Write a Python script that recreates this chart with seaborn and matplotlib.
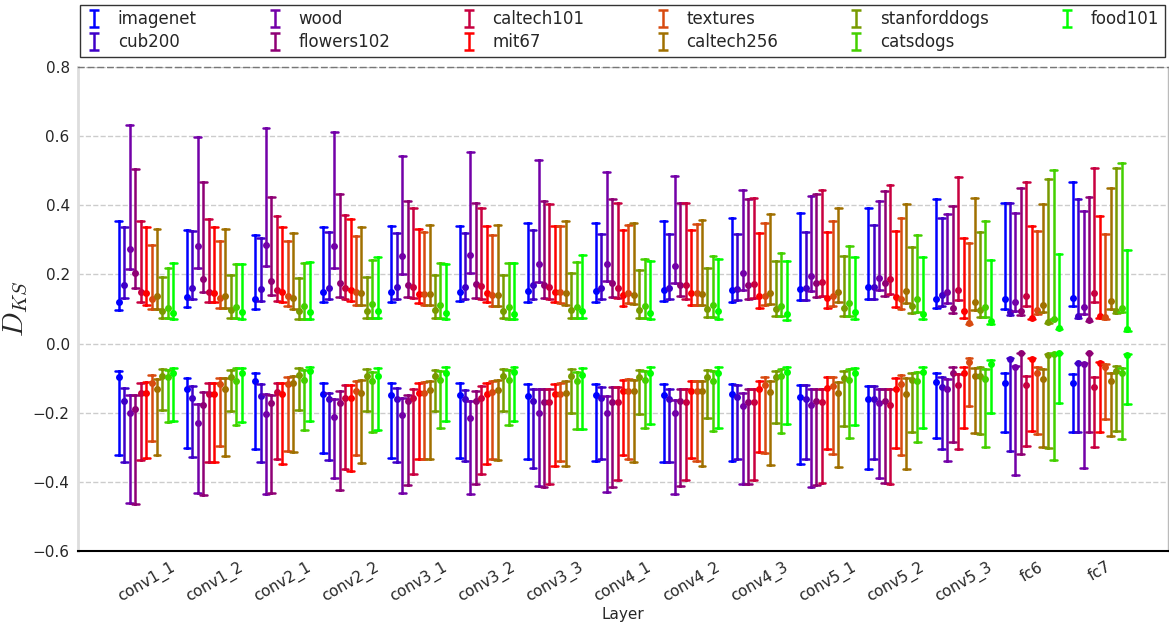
import numpy as np
import pandas as pd
import matplotlib
matplotlib.use("Agg")
import matplotlib.pyplot as plt
import seaborn as sns

layers = ["conv1_1", "conv1_2", "conv2_1", "conv2_2", "conv3_1", "conv3_2", "conv3_3",
          "conv4_1", "conv4_2", "conv4_3", "conv5_1", "conv5_2", "conv5_3", "fc6", "fc7"]
datasets = ["imagenet", "cub200", "wood", "flowers102", "caltech101", "mit67",
            "textures", "caltech256", "stanforddogs", "catsdogs", "food101"]
colors = ["#0000FF", "#3F00C8", "#7300A8", "#8F0075", "#C80040", "#FF0000",
          "#D84A10", "#A07000", "#789A00", "#44D000", "#00FF00"]

# positive side: upper whisker, marker, lower whisker (one row per dataset)
upper_hi = [
    [.355, .329, .315, .336, .340, .340, .350, .348, .355, .364, .379, .391, .419, .408, .468],
    [.338, .325, .304, .322, .321, .321, .328, .316, .318, .316, .323, .342, .364, .408, .419],
    [.632, .597, .624, .612, .543, .554, .531, .497, .485, .444, .427, .413, .374, .379, .383],
    [.505, .468, .424, .433, .413, .408, .413, .417, .408, .419, .434, .442, .398, .449, .424],
    [.354, .361, .368, .372, .393, .391, .404, .408, .408, .422, .444, .458, .482, .466, .509],
    [.337, .338, .338, .360, .331, .340, .340, .329, .328, .321, .323, .325, .305, .340, .369],
    [.286, .297, .297, .311, .323, .313, .340, .342, .345, .350, .355, .364, .290, .326, .316],
    [.331, .331, .319, .338, .342, .343, .355, .350, .358, .374, .391, .403, .421, .405, .451],
    [.194, .199, .191, .193, .199, .198, .203, .212, .218, .238, .254, .278, .323, .477, .509],
    [.218, .230, .234, .241, .234, .232, .237, .244, .254, .263, .283, .313, .355, .501, .521],
    [.233, .230, .237, .251, .230, .232, .256, .239, .244, .240, .249, .249, .241, .259, .270],
]
upper_med = [
    [.121, .136, .130, .149, .150, .150, .152, .153, .154, .154, .157, .165, .128, .128, .133],
    [.170, .162, .157, .162, .165, .165, .169, .161, .162, .159, .160, .165, .140, .090, .080],
    [.275, .282, .286, .283, .254, .256, .231, .231, .223, .203, .196, .191, .149, .121, .107],
    [.203, .188, .181, .176, .169, .172, .170, .175, .169, .169, .174, .176, .104, .094, .069],
    [.150, .150, .155, .162, .165, .167, .165, .162, .169, .172, .179, .186, .155, .138, .145],
    [.145, .146, .149, .155, .143, .146, .150, .141, .146, .138, .133, .136, .094, .075, .080],
    [.128, .131, .138, .148, .143, .141, .148, .145, .146, .138, .138, .130, .059, .096, .078],
    [.138, .138, .131, .145, .143, .140, .145, .141, .143, .145, .148, .152, .121, .111, .122],
    [.094, .096, .093, .094, .097, .094, .096, .097, .099, .099, .102, .109, .097, .061, .093],
    [.102, .107, .109, .114, .111, .107, .107, .109, .111, .109, .117, .130, .107, .072, .102],
    [.088, .090, .090, .094, .087, .085, .094, .087, .093, .085, .090, .085, .066, .044, .041],
]
upper_lo = [
    [.097, .107, .101, .119, .120, .123, .120, .120, .123, .121, .126, .130, .104, .101, .109],
    [.132, .128, .123, .128, .130, .130, .130, .128, .128, .125, .126, .130, .109, .083, .075],
    [.215, .220, .225, .219, .201, .203, .178, .181, .176, .155, .152, .155, .117, .095, .085],
    [.160, .149, .141, .136, .135, .131, .131, .136, .138, .130, .136, .138, .087, .082, .066],
    [.121, .119, .123, .128, .131, .128, .128, .131, .130, .133, .138, .143, .126, .109, .119],
    [.112, .119, .119, .124, .117, .119, .119, .109, .112, .104, .104, .107, .075, .070, .075],
    [.101, .104, .109, .112, .112, .109, .116, .117, .112, .111, .109, .101, .056, .085, .072],
    [.101, .104, .101, .112, .112, .109, .111, .114, .112, .114, .119, .117, .097, .090, .099],
    [.073, .075, .070, .073, .073, .073, .075, .073, .078, .080, .080, .087, .078, .059, .087],
    [.073, .075, .070, .073, .073, .070, .075, .073, .078, .080, .080, .092, .078, .070, .090],
    [.070, .070, .070, .073, .070, .070, .075, .070, .070, .068, .070, .070, .058, .041, .037],
]

# negative side: whisker nearest zero, marker, far whisker
lower_hi = [
    [-.079, -.101, -.086, -.115, -.115, -.115, -.118, -.118, -.118, -.118, -.120, -.122, -.086, -.086, -.089],
    [-.128, -.122, -.118, -.142, -.128, -.135, -.132, -.127, -.132, -.120, -.120, -.122, -.098, -.041, -.055],
    [-.150, -.176, -.147, -.161, -.158, -.166, -.130, -.151, -.163, -.142, -.130, -.130, -.103, -.065, -.055],
    [-.148, -.139, -.150, -.137, -.150, -.137, -.132, -.127, -.132, -.132, -.130, -.130, -.069, -.026, -.026],
    [-.114, -.114, -.115, -.120, -.130, -.122, -.132, -.127, -.132, -.132, -.130, -.130, -.089, -.094, -.096],
    [-.112, -.114, -.113, -.120, -.113, -.113, -.116, -.106, -.108, -.108, -.098, -.101, -.068, -.043, -.053],
    [-.092, -.099, -.096, -.108, -.111, -.108, -.113, -.103, -.108, -.098, -.098, -.092, -.042, -.068, -.058],
    [-.103, -.101, -.094, -.105, -.108, -.106, -.108, -.105, -.108, -.108, -.111, -.101, -.072, -.074, -.084],
    [-.074, -.075, -.070, -.073, -.077, -.073, -.074, -.077, -.075, -.078, -.079, -.084, -.069, -.031, -.065],
    [-.075, -.072, -.076, -.082, -.079, -.076, -.082, -.079, -.078, -.074, -.074, -.082, -.074, -.028, -.072],
    [-.070, -.070, -.068, -.071, -.069, -.068, -.070, -.069, -.068, -.068, -.070, -.068, -.048, -.026, -.030],
]
lower_med = [
    [-.098, -.130, -.108, -.147, -.148, -.148, -.151, -.150, -.150, -.147, -.154, -.159, -.111, -.113, -.115],
    [-.166, -.156, -.151, -.161, -.161, -.161, -.166, -.156, -.159, -.154, -.159, -.159, -.127, -.044, -.057],
    [-.200, -.229, -.204, -.211, -.207, -.214, -.200, -.200, -.200, -.182, -.178, -.173, -.132, -.068, -.058],
    [-.190, -.179, -.173, -.173, -.166, -.166, -.169, -.168, -.166, -.169, -.166, -.166, -.084, -.028, -.028],
    [-.144, -.147, -.140, -.156, -.156, -.156, -.169, -.169, -.169, -.169, -.169, -.178, -.120, -.120, -.127],
    [-.142, -.147, -.147, -.158, -.142, -.145, -.147, -.137, -.137, -.132, -.129, -.130, -.084, -.045, -.055],
    [-.115, -.118, -.116, -.137, -.142, -.139, -.147, -.137, -.137, -.120, -.123, -.118, -.052, -.086, -.068],
    [-.132, -.132, -.115, -.142, -.135, -.134, -.144, -.137, -.137, -.140, -.142, -.147, -.094, -.102, -.108],
    [-.094, -.096, -.091, -.094, -.094, -.094, -.094, -.096, -.096, -.096, -.099, -.104, -.094, -.033, -.079],
    [-.098, -.107, -.105, -.108, -.106, -.105, -.108, -.104, -.108, -.094, -.104, -.108, -.102, -.031, -.086],
    [-.085, -.086, -.079, -.094, -.086, -.083, -.091, -.086, -.086, -.082, -.086, -.082, -.058, -.028, -.032],
]
lower_lo = [
    [-.323, -.301, -.304, -.317, -.330, -.330, -.335, -.339, -.344, -.339, -.349, -.362, -.272, -.257, -.256],
    [-.344, -.327, -.342, -.337, -.344, -.339, -.359, -.335, -.344, -.333, -.333, -.335, -.306, -.310, -.256],
    [-.460, -.431, -.436, -.390, -.431, -.434, -.412, -.429, -.436, -.407, -.414, -.388, -.339, -.381, -.359],
    [-.465, -.439, -.433, -.423, -.410, -.407, -.415, -.415, -.412, -.407, -.410, -.402, -.284, -.320, -.257],
    [-.337, -.344, -.333, -.362, -.378, -.378, -.407, -.394, -.394, -.394, -.402, -.407, -.306, -.296, -.299],
    [-.330, -.344, -.347, -.368, -.335, -.349, -.354, -.323, -.330, -.313, -.305, -.301, -.243, -.253, -.255],
    [-.282, -.296, -.311, -.323, -.335, -.335, -.339, -.333, -.339, -.317, -.320, -.323, -.180, -.262, -.219],
    [-.323, -.325, -.315, -.346, -.335, -.337, -.354, -.344, -.354, -.352, -.357, -.364, -.260, -.299, -.267],
    [-.193, -.195, -.192, -.195, -.195, -.195, -.200, -.205, -.214, -.229, -.238, -.256, -.262, -.301, -.253],
    [-.226, -.236, -.250, -.257, -.244, -.235, -.248, -.243, -.253, -.260, -.274, -.286, -.298, -.337, -.277],
    [-.224, -.227, -.224, -.250, -.224, -.224, -.248, -.233, -.243, -.233, -.236, -.243, -.202, -.173, -.175],
]

# long-form table: three values (low, marker, high) per dataset / layer / side
rows = []
for side, arrs in (("upper", (upper_lo, upper_med, upper_hi)),
                   ("lower", (lower_lo, lower_med, lower_hi))):
    for d, name in enumerate(datasets):
        for j, layer in enumerate(layers):
            for arr in arrs:
                rows.append((side, name, layer, arr[d][j]))
df = pd.DataFrame(rows, columns=["side", "dataset", "layer", "value"])

sns.set_style("white")
plt.rcParams["font.family"] = ["DejaVu Sans"]
plt.rcParams["mathtext.fontset"] = "cm"

W, H = 1169, 626
fig = plt.figure(figsize=(W / 100, H / 100), dpi=100)
ax = fig.add_axes([78 / W, 1 - 551 / H, 1090 / W, 484 / H])

for side in ("upper", "lower"):
    sns.pointplot(
        data=df[df["side"] == side], x="layer", y="value", hue="dataset",
        order=layers, hue_order=datasets, palette=colors,
        estimator="median", errorbar=lambda v: (v.min(), v.max()),
        dodge=0.8, linestyle="none", markers="o", markersize=5,
        markeredgewidth=0, capsize=0.1, err_kws={"linewidth": 1.8},
        legend=False, ax=ax,
    )

ax.set_xlim(-1, 15)
ax.set_ylim(-0.6, 0.8)
ax.set_yticks(np.round(np.arange(-0.6, 0.81, 0.2), 1))
ax.set_xticks(range(len(layers)))
ax.set_xticklabels(layers, rotation=30, ha="center", fontsize=11)
ax.tick_params(axis="y", labelsize=11, length=0, pad=6)
ax.tick_params(axis="x", direction="in", length=5, color="#999999", pad=6)
ax.yaxis.grid(True, linestyle="--", color="#cccccc", linewidth=1)
ax.xaxis.grid(False)
ax.set_axisbelow(True)

ax.spines["left"].set_color("#dddddd")
ax.spines["left"].set_linewidth(2)
ax.spines["right"].set_color("#bbbbbb")
ax.spines["right"].set_linewidth(1)
ax.spines["top"].set_color("#777777")
ax.spines["top"].set_linestyle((0, (4, 3)))
ax.spines["top"].set_linewidth(1)
ax.spines["bottom"].set_color("black")
ax.spines["bottom"].set_linewidth(1.5)

ax.set_xlabel("Layer", fontsize=11, labelpad=1)
ax.set_ylabel(r"$D_{KS}$", fontsize=21, labelpad=2)

handles = []
for name, c in zip(datasets, colors):
    h = ax.errorbar([np.nan], [np.nan], yerr=[1], fmt="none", ecolor=c,
                    elinewidth=1.8, capsize=3.5, capthick=1.8)
    handles.append(h)
leg = ax.legend(handles, datasets, ncol=6, loc="lower left",
                bbox_to_anchor=(0.002, 1.02, 0.995, 0.112), mode="expand",
                borderaxespad=0, frameon=True, fancybox=False, edgecolor="black",
                fontsize=12, handlelength=1.0, handletextpad=0.9, labelspacing=0.3,
                borderpad=0.35)
leg.get_frame().set_linewidth(1)

fig.savefig("out.png", dpi=100)
